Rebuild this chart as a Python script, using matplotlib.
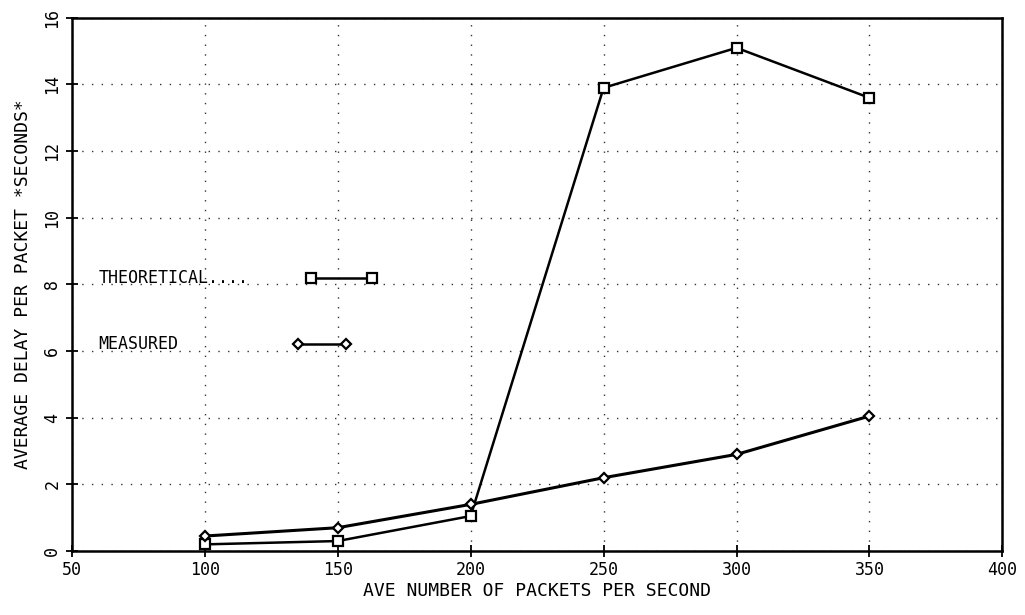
import matplotlib
matplotlib.use('Agg')
import matplotlib.pyplot as plt

plt.rcParams.update({'font.family': 'DejaVu Sans Mono', 'font.size': 11})

# data
rate = [100, 150, 200, 250, 300, 350]
theoretical = [0.2, 0.3, 1.05, 13.9, 15.1, 13.6]
measured = [0.45, 0.7, 1.4, 2.2, 2.9, 4.05]
xticks = [50, 100, 150, 200, 250, 300, 350, 400]
yticks = [0, 2, 4, 6, 8, 10, 12, 14, 16]

fig = plt.figure(figsize=(10.25, 6.15), dpi=100)
ax = fig.add_axes([0.070, 0.104, 0.908, 0.867])

ax.plot(rate, theoretical, color='black', lw=1.8, marker='s', ms=7,
        mfc='white', mec='black', mew=1.6, zorder=3)
ax.plot(rate, measured, color='black', lw=2.2, marker='D', ms=5,
        mfc='white', mec='black', mew=1.6, zorder=3)

# hand-drawn style legend inside the plot
ax.text(60, 8.2, 'THEORETICAL....', va='center', ha='left', fontsize=12)
ax.plot([140, 163], [8.2, 8.2], color='black', lw=1.8, marker='s', ms=7,
        mfc='white', mec='black', mew=1.6)
ax.text(60, 6.2, 'MEASURED', va='center', ha='left', fontsize=12)
ax.plot([135, 153], [6.2, 6.2], color='black', lw=1.8, marker='D', ms=5,
        mfc='white', mec='black', mew=1.6)

ax.set_xlim(50, 400)
ax.set_ylim(0, 16)
ax.set_xticks(xticks)
ax.set_yticks(yticks)
ax.set_yticklabels([str(v) for v in yticks], rotation=90, va='center')
ax.tick_params(direction='inout', length=8, width=1.3, labelsize=12)
ax.grid(True, ls=(0, (1, 6)), color='black', lw=1.0, alpha=0.8)
for s in ax.spines.values():
    s.set_linewidth(1.8)

ax.set_xlabel('AVE NUMBER OF PACKETS PER SECOND', fontsize=13, labelpad=2)
ax.set_ylabel('AVERAGE DELAY PER PACKET *SECONDS*', fontsize=13, labelpad=8)

fig.savefig('out.png', dpi=100)
